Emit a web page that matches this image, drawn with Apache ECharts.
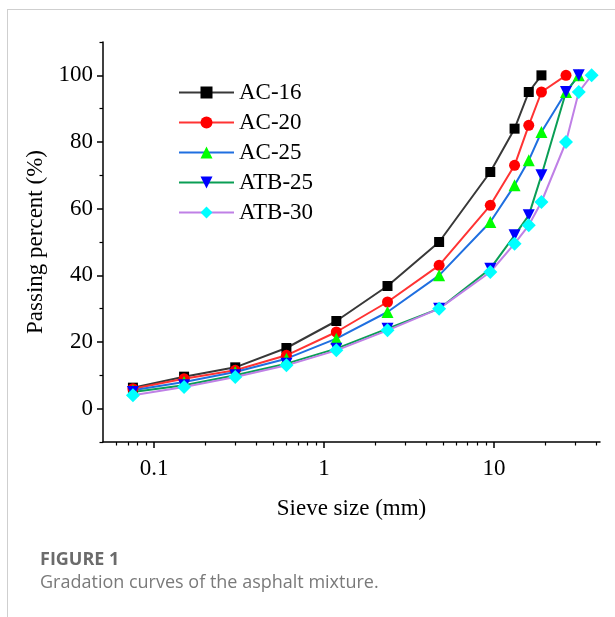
<!DOCTYPE html>
<html>
<head>
<meta charset="utf-8">
<script src="https://cdn.jsdelivr.net/npm/echarts@6/dist/echarts.min.js"></script>
<style>
html,body{margin:0;padding:0;background:#fff;}
#chart{width:615px;height:617px;}
</style>
</head>
<body>
<div id="chart"></div>
<script>
// sieve sizes (mm)
var sieve=[0.075,0.15,0.3,0.6,1.18,2.36,4.75,9.5,13.2,16,19,26.5,31.5,37.5];
// passing percent, one array per mix (shorter ones stop at 100)
var ac16=[6.3,9.6,12.4,18.2,26.3,36.8,50,71,84,95,100];
var ac20=[6,9,11.5,16,23,32,43,61,73,85,95,100];
var ac25=[5.5,8,11,15,21,29,40,56,67,74.5,83,95,100];
var atb25=[5,7,10,13.5,18,24,30,42,52,58,70,95,100];
var atb30=[4,6.5,9.5,13,17.5,23.5,30,41,49.5,55,62,80,95,100];

var names=["AC-16","AC-20","AC-25","ATB-25","ATB-30"];
var yMajor=[0,20,40,60,80,100];
var yMinor=[-10,10,30,50,70,90,110];
var xMajor=[0.1,1,10];
var xMinor=[0.06,0.07,0.08,0.09,0.2,0.3,0.4,0.5,0.6,0.7,0.8,0.9,2,3,4,5,6,7,8,9,20,30,40];

var serif="Liberation Serif";
var chart=echarts.init(document.getElementById("chart"));

function pairs(vals){
  return vals.map((v,i)=>[sieve[i],v]);
}
function mkSeries(name,vals,lineColor,markColor,symbol,size,rot){
  return {
    name:name,
    type:"line",
    data:pairs(vals),
    symbol:symbol,
    symbolSize:size,
    symbolRotate:rot||0,
    lineStyle:{color:lineColor,width:2},
    itemStyle:{color:markColor},
    z:2
  };
}

var option={
  animation:false,
  title:[
    {text:"FIGURE 1",left:35,top:546,textStyle:{fontFamily:"Open Sans",fontSize:18,fontWeight:"bold",color:"#6b6b6b"}},
    {text:"Gradation curves of the asphalt mixture.",left:35,top:569,textStyle:{fontFamily:"Open Sans",fontSize:18,fontWeight:"normal",color:"#7a7a7a"}}
  ],
  graphic:[
    {type:"line",shape:{x1:7,y1:9.5,x2:615,y2:9.5},style:{stroke:"#cfcfcf",lineWidth:1}},
    {type:"line",shape:{x1:7.5,y1:9,x2:7.5,y2:617},style:{stroke:"#cfcfcf",lineWidth:1}}
  ],
  grid:{left:103,right:15,top:42,bottom:175},
  legend:{
    data:names,
    orient:"vertical",
    left:173,
    top:76,
    itemWidth:55,
    itemHeight:15,
    itemGap:7,
    textStyle:{fontFamily:serif,fontSize:23,lineHeight:23,color:"#000"}
  },
  xAxis:[
    {
      type:"log",
      min:0.05,
      max:42,
      position:"bottom",
      name:"Sieve size (mm)",
      nameLocation:"middle",
      nameGap:55,
      nameTextStyle:{fontFamily:serif,fontSize:23,color:"#000"},
      axisLine:{onZero:false,lineStyle:{color:"#000",width:1.5}},
      axisTick:{customValues:xMajor,length:6,lineStyle:{color:"#000",width:1.5}},
      axisLabel:{customValues:xMajor,margin:15,fontFamily:serif,fontSize:23,color:"#000"},
      splitLine:{show:false}
    },
    {
      type:"log",
      min:0.05,
      max:42,
      position:"bottom",
      offset:0,
      axisLine:{show:false,onZero:false},
      axisTick:{customValues:xMinor,length:3.5,lineStyle:{color:"#000",width:1.2}},
      axisLabel:{show:false},
      splitLine:{show:false}
    }
  ],
  yAxis:[
    {
      type:"value",
      min:-10,
      max:110,
      interval:10,
      position:"left",
      name:"Passing percent (%)",
      nameLocation:"middle",
      nameGap:52,
      nameTextStyle:{fontFamily:serif,fontSize:23,color:"#000"},
      axisLine:{show:true,onZero:false,lineStyle:{color:"#000",width:1.5}},
      axisTick:{show:true,customValues:yMajor,length:6,lineStyle:{color:"#000",width:1.5}},
      axisLabel:{customValues:yMajor,margin:10,fontFamily:serif,fontSize:23,color:"#000"},
      splitLine:{show:false}
    },
    {
      type:"value",
      min:-10,
      max:110,
      interval:10,
      position:"left",
      offset:0,
      axisLine:{show:false,onZero:false},
      axisTick:{show:true,customValues:yMinor,length:3.5,lineStyle:{color:"#000",width:1.2}},
      axisLabel:{show:false},
      splitLine:{show:false}
    }
  ],
  series:[
    mkSeries(names[0],ac16,"#383838","#000000","rect",10),
    mkSeries(names[1],ac20,"#ff3333","#ff0000","circle",11),
    mkSeries(names[2],ac25,"#1f6fe0","#00ff00","triangle",12),
    mkSeries(names[3],atb25,"#0a9e55","#0000ff","triangle",12,180),
    mkSeries(names[4],atb30,"#bf80e6","#00ffff","diamond",14)
  ]
};
chart.setOption(option);
</script>
</body>
</html>
